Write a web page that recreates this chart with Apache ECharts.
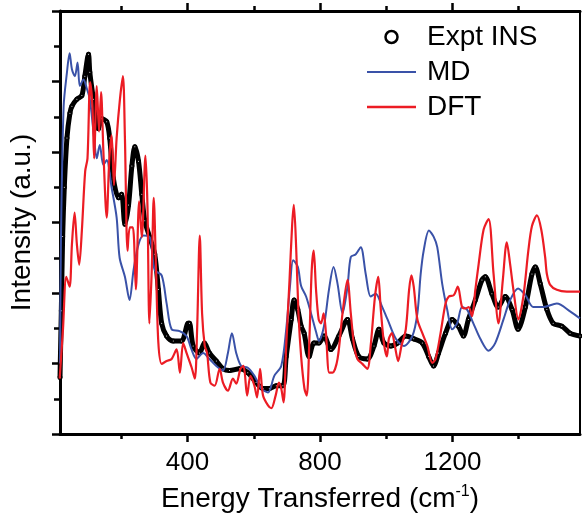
<!DOCTYPE html>
<html>
<head>
<meta charset="utf-8">
<script src="https://cdn.jsdelivr.net/npm/echarts@6/dist/echarts.min.js"></script>
<style>
html,body{margin:0;padding:0;background:#fff;}
#chart{width:582px;height:518px;}
</style>
</head>
<body>
<div id="chart"></div>
<script>
// ---- data ----
const exptEnergy = [15,19,23,28,36,45,51,66,81,90,101,105,116,131,141,156,165,176,192,201,211,222,232,241,252,262,271,286,301,312,322,337,357,382,402,406,417,436,451,466,487,507,527,557,582,607,628,647,668,688,698,713,722,733,743,752,767,782,797,812,833,857,883,898,917,943,963,978,993,1014,1034,1059,1083,1109,1128,1143,1158,1179,1199,1218,1233,1248,1269,1289,1299,1319,1338,1359,1380,1398,1420,1440,1450,1465,1485,1504,1530,1555,1585];
const exptIntensity = [1.6,3.5,5.6,7.0,8.4,9.1,9.3,9.5,9.6,10.15,10.77,10.26,9.5,8.66,8.94,8.86,8.4,7.26,6.7,6.8,5.95,6.5,7.6,8.15,7.74,6.8,6.05,5.58,5.1,4.1,3.14,2.78,2.64,2.64,3.14,3.14,2.5,2.3,2.58,2.3,2.07,1.85,1.8,1.85,1.74,1.46,1.29,1.29,1.37,1.37,2.2,3.25,3.8,3.53,3.06,2.86,2.2,2.58,2.58,2.78,2.4,2.78,3.25,2.7,2.2,2.13,2.5,2.97,2.58,2.5,2.58,2.78,2.7,2.58,2.2,1.93,2.3,2.86,3.25,3.06,2.78,3.25,3.8,4.37,4.46,3.98,3.6,3.9,3.53,2.97,3.6,4.54,4.74,4.26,3.53,3.14,3.06,2.86,2.78];

const mdEnergy = [15,18,26,36,44,51,60,68,75,86,96,105,116,126,135,146,156,171,186,195,211,225,237,252,267,286,301,322,337,352,376,397,412,427,447,466,487,507,522,534,547,562,582,602,623,643,662,683,698,710,719,733,743,758,773,788,797,812,827,841,853,868,883,893,908,923,938,953,968,988,1004,1029,1053,1079,1094,1104,1113,1129,1143,1154,1169,1184,1199,1214,1229,1244,1263,1284,1309,1329,1354,1374,1398,1420,1444,1474,1515,1555,1585];
const mdIntensity = [2.0,5.58,9.3,10.26,10.8,10.35,10.15,10.54,9.87,10.06,9.8,9.5,8.58,7.82,8.2,7.63,7.77,6.98,6.14,5.0,4.46,3.8,4.65,5.38,5.63,5.58,4.65,4.5,3.7,2.97,2.92,2.78,2.4,2.13,2.3,2.13,1.93,1.8,2.3,2.86,2.3,1.93,1.88,1.65,1.29,1.18,1.65,1.93,2.97,4.26,4.93,4.74,4.2,3.9,3.42,2.9,2.64,3.06,4.09,4.74,4.26,3.42,4.18,5.02,5.1,5.3,4.54,3.9,3.98,3.6,3.25,2.7,2.5,2.78,3.42,4.54,5.2,5.77,5.6,5.3,4.26,3.53,2.97,3.14,3.6,3.53,3.14,2.7,2.36,2.58,3.25,3.8,4.13,3.94,3.6,3.6,3.7,3.48,3.28];

const dftEnergy = [14,24,34,44,51,59,66,73,81,91,98,106,113,118,126,133,139,146,156,164,171,178,186,196,205,211,219,226,235,244,254,262,273,279,285,292,298,305,312,322,337,352,367,377,387,397,412,422,429,437,444,452,459,469,482,497,507,522,537,547,560,569,580,590,602,610,619,628,643,653,666,676,683,690,698,708,716,721,728,735,743,753,760,768,775,781,788,796,803,811,818,828,838,853,868,883,893,903,913,928,943,953,966,976,983,993,1002,1008,1017,1026,1036,1046,1059,1069,1076,1083,1094,1109,1124,1139,1149,1164,1179,1189,1204,1216,1229,1239,1249,1259,1269,1279,1294,1309,1324,1339,1352,1364,1374,1384,1399,1414,1429,1440,1455,1468,1480,1485,1495,1515,1545,1585];
const dftIntensity = [1.57,2.97,4.46,4.18,5.38,6.28,5.38,4.8,5.77,7.45,7.82,9.98,9.3,7.82,9.87,8.58,9.7,8.02,6.14,7.82,8.47,7.06,8.4,9.5,10.15,8.4,5.2,5.86,5.86,4.1,6.6,5.58,7.9,6.5,3.14,4.65,6.7,4.65,2.58,1.99,2.07,2.13,2.4,1.74,2.58,2.3,1.9,1.57,2.97,5.63,3.42,2.5,2.3,1.46,1.37,1.85,1.46,1.23,1.57,1.43,1.85,1.93,1.09,1.65,1.37,1.04,1.85,1.09,0.81,0.73,1.09,1.46,1.29,0.9,2.5,4.37,5.95,6.5,5.3,3.42,2.2,1.29,1.09,2.7,4.65,5.2,4.1,3.25,3.14,3.42,2.86,1.74,1.74,2.13,3.42,4.37,3.42,2.5,2.13,1.99,1.85,2.5,3.9,4.46,3.6,2.58,2.2,2.7,2.86,2.5,2.07,2.5,2.97,4.09,4.5,4.18,3.25,2.86,2.5,2.02,2.13,2.86,3.7,3.9,3.94,4.18,3.6,3.56,3.6,3.34,4.09,4.82,5.8,6.1,4.54,3.14,4.37,5.44,4.82,4.09,3.25,3.9,5.2,5.9,6.2,5.8,5.0,4.54,4.23,4.09,4.04,4.04];

const xMajorTicks = [400, 800, 1200];
const xMinorTicks = [200, 600, 1000, 1400];
const xTickLabels = [400, 800, 1200];
const seriesNames = ['Expt INS', 'MD', 'DFT'];

function zip(a, b) { return a.map((v, i) => [v, b[i]]); }

const FONT = 'Liberation Sans, Arial, sans-serif';
const X_MIN = 15, X_MAX = 1585;
const MD_COLOR = '#3a52a8', DFT_COLOR = '#ec1c24';

function xAx(position, ticks, len, showLine, labels, extra) {
  return Object.assign({
    type: 'value', position: position, min: X_MIN, max: X_MAX,
    axisLine: { show: showLine, onZero: false, lineStyle: { color: '#000', width: 3 } },
    axisTick: { show: true, customValues: ticks, length: len, lineStyle: { color: '#000', width: 2.5 } },
    axisLabel: labels ? { customValues: labels, fontSize: 26, color: '#000', fontFamily: FONT, margin: 16,
                          formatter: function (v) { return String(v); } } : { show: false },
    splitLine: { show: false }
  }, extra || {});
}

const chart = echarts.init(document.getElementById('chart'), null, { renderer: 'canvas' });
chart.setOption({
  animation: false,
  backgroundColor: '#fff',
  grid: { left: 58, right: 2, top: 11, bottom: 79, containLabel: false },
  legend: {
    orient: 'vertical', left: 367, top: 22, padding: 0,
    itemWidth: 49, itemHeight: 12, itemGap: 5,
    textStyle: { fontSize: 28, color: '#000', fontFamily: FONT, lineHeight: 30, padding: [0, 0, 0, 6] },
    data: [
      { name: seriesNames[0], icon: 'circle', itemStyle: { color: '#fff', borderColor: '#000', borderWidth: 2.5 } },
      { name: seriesNames[1], icon: 'path://M0,0L49,0L49,2.2L0,2.2Z', itemStyle: { color: MD_COLOR, borderWidth: 0 } },
      { name: seriesNames[2], icon: 'path://M0,0L49,0L49,2.4L0,2.4Z', itemStyle: { color: DFT_COLOR, borderWidth: 0 } }
    ]
  },
  xAxis: [
    xAx('bottom', xMajorTicks, 8, true, xTickLabels, {
      name: '{a|Energy Transferred (cm}{s|-1}{a|)}',
      nameLocation: 'middle', nameGap: 50,
      nameTextStyle: {
        rich: {
          a: { fontSize: 28, color: '#000', fontFamily: FONT, lineHeight: 30 },
          s: { fontSize: 16, color: '#000', fontFamily: FONT, verticalAlign: 'top', lineHeight: 30 }
        }
      }
    }),
    xAx('bottom', xMinorTicks, 5, false, null),
    xAx('top', xMajorTicks, 8, true, null),
    xAx('top', xMinorTicks, 5, false, null)
  ],
  yAxis: [
    {
      type: 'value', position: 'left', min: 0, max: 12, interval: 2,
      axisLine: { show: true, onZero: false, lineStyle: { color: '#000', width: 3 } },
      axisTick: { show: true, length: 8, lineStyle: { color: '#000', width: 2.5 } },
      minorTick: { show: true, splitNumber: 2, length: 6, lineStyle: { color: '#000', width: 2.5 } },
      axisLabel: { show: false },
      splitLine: { show: false },
      name: 'Intensity (a.u.)', nameLocation: 'middle', nameGap: 24,
      nameTextStyle: { fontSize: 28, color: '#000', fontFamily: FONT }
    },
    {
      type: 'value', position: 'right', min: 0, max: 12,
      axisLine: { show: true, onZero: false, lineStyle: { color: '#000', width: 2 } },
      axisTick: { show: false }, axisLabel: { show: false }, splitLine: { show: false }
    }
  ],
  series: [
    {
      name: seriesNames[0], type: 'line', xAxisIndex: 0, yAxisIndex: 0,
      data: zip(exptEnergy, exptIntensity),
      smooth: 0.3,
      symbol: 'emptyCircle', symbolSize: 3, showSymbol: true, showAllSymbol: true,
      lineStyle: { color: '#000', width: 5 },
      itemStyle: { color: '#000', borderWidth: 1 },
      emphasis: { disabled: true }, z: 2
    },
    {
      name: seriesNames[1], type: 'line', xAxisIndex: 0, yAxisIndex: 0,
      data: zip(mdEnergy, mdIntensity),
      smooth: 0.3, symbol: 'none',
      lineStyle: { color: MD_COLOR, width: 2 },
      itemStyle: { color: MD_COLOR },
      emphasis: { disabled: true }, z: 3
    },
    {
      name: seriesNames[2], type: 'line', xAxisIndex: 0, yAxisIndex: 0,
      data: zip(dftEnergy, dftIntensity),
      smooth: 0.3, symbol: 'none',
      lineStyle: { color: DFT_COLOR, width: 2.2 },
      itemStyle: { color: DFT_COLOR },
      emphasis: { disabled: true }, z: 4
    }
  ]
});
</script>
</body>
</html>
